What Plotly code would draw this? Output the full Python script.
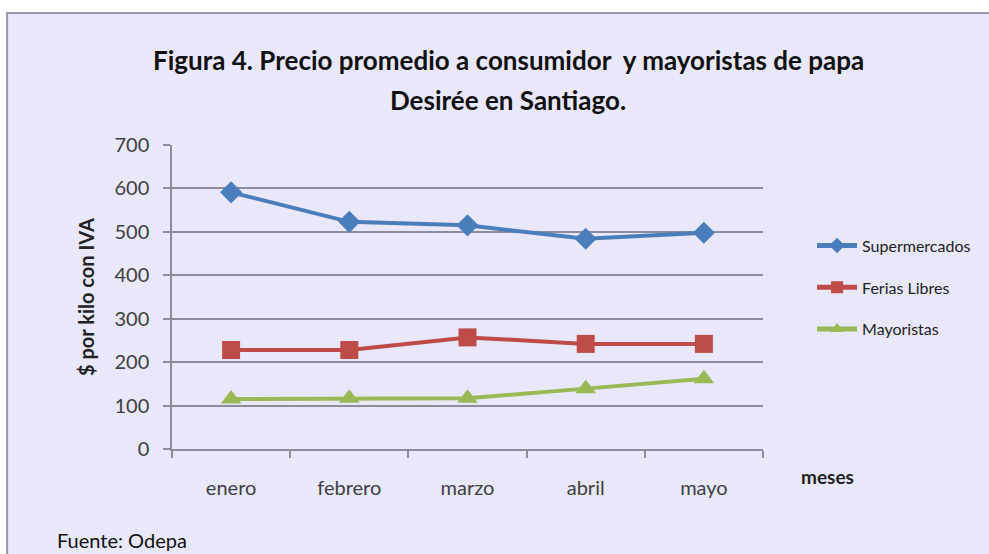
import plotly.graph_objects as go

meses = ["enero", "febrero", "marzo", "abril", "mayo"]
supermercados = [591, 523, 515, 484, 498]
ferias_libres = [228, 228, 257, 242, 242]
mayoristas = [115, 117, 117, 139, 162]
y_ticks = [0, 100, 200, 300, 400, 500, 600, 700]

BG = "rgb(232,232,250)"
FONT = "Lato"
GRID = "rgb(140,140,155)"

fig = go.Figure()
series = [
    ("Supermercados", supermercados, "#4A7EBB", "diamond", 17),
    ("Ferias Libres", ferias_libres, "#BE4B48", "square", 18),
    ("Mayoristas", mayoristas, "#98B954", "triangle-up", 18),
]
for i, (name, vals, col, sym, sz) in enumerate(series):
    fig.add_trace(go.Scatter(
        x=meses, y=vals, name=name, mode="lines+markers",
        line=dict(color=col, width=4),
        marker=dict(symbol=sym, size=sz, color=col),
        legendgroup=name,
    ))

fig.update_layout(
    width=989, height=554,
    margin=dict(l=172, r=226, t=145, b=105),
    paper_bgcolor="white",
    plot_bgcolor=BG,
    font=dict(family=FONT, color="#404040"),
    showlegend=True,
    legend=dict(
        x=1.083, y=0.725, xanchor="left", yanchor="top",
        bgcolor="rgba(0,0,0,0)",
        font=dict(family=FONT, size=16, color="#222222"),
        tracegroupgap=18, itemwidth=40, itemsizing="constant",
    ),
    xaxis=dict(
        type="category", range=[-0.5, 4.5],
        showgrid=False, showline=True, linecolor=GRID, linewidth=1.5,
        ticks="outside", ticklen=7, tickcolor=GRID, tickwidth=1.5,
        tickson="boundaries",
        tickfont=dict(family=FONT, size=20, color="#404040"),
        ticklabelstandoff=20,
        zeroline=False,
    ),
    yaxis=dict(
        range=[0, 700], tickvals=y_ticks,
        showgrid=True, gridcolor=GRID, gridwidth=1.5,
        showline=True, linecolor=GRID, linewidth=1.5,
        ticks="outside", ticklen=7, tickcolor=GRID, tickwidth=1.5,
        tickfont=dict(family=FONT, size=20, color="#404040"),
        ticklabelstandoff=10,
        zeroline=False,
        title=dict(text="<b>$ por kilo con IVA</b>", font=dict(family=FONT, size=20, color="#222222"), standoff=14),
    ),
    shapes=[
        dict(type="rect", xref="paper", yref="paper", x0=-0.279, x1=2.0, y0=-1.0, y1=1.434,
             line=dict(color="rgb(150,150,165)", width=2), fillcolor=BG, layer="below"),
    ],
    annotations=[
        dict(text="<b>Figura 4. Precio promedio a consumidor  y mayoristas de papa</b>",
             xref="paper", yref="paper", x=(508 - 172) / 591, y=(449 - 60) / 304,
             showarrow=False, font=dict(family=FONT, size=26, color="#111111"),
             xanchor="center", yanchor="middle"),
        dict(text="<b>Desirée en Santiago.</b>",
             xref="paper", yref="paper", x=(508 - 172) / 591, y=(449 - 100) / 304,
             showarrow=False, font=dict(family=FONT, size=26, color="#111111"),
             xanchor="center", yanchor="middle"),
        dict(text="<b>meses</b>", xref="paper", yref="paper",
             x=(799 - 172) / 591, y=(449 - 476) / 304, showarrow=False,
             font=dict(family=FONT, size=19, color="#222222"), xanchor="left", yanchor="middle"),
        dict(text="Fuente: Odepa", xref="paper", yref="paper",
             x=(55 - 172) / 591, y=(449 - 540) / 304, showarrow=False,
             font=dict(family=FONT, size=20, color="#111111"), xanchor="left", yanchor="middle"),
    ],
)

fig.write_html("out.html", config={"displayModeBar": False},
               post_script="document.body.style.margin='0px';")
